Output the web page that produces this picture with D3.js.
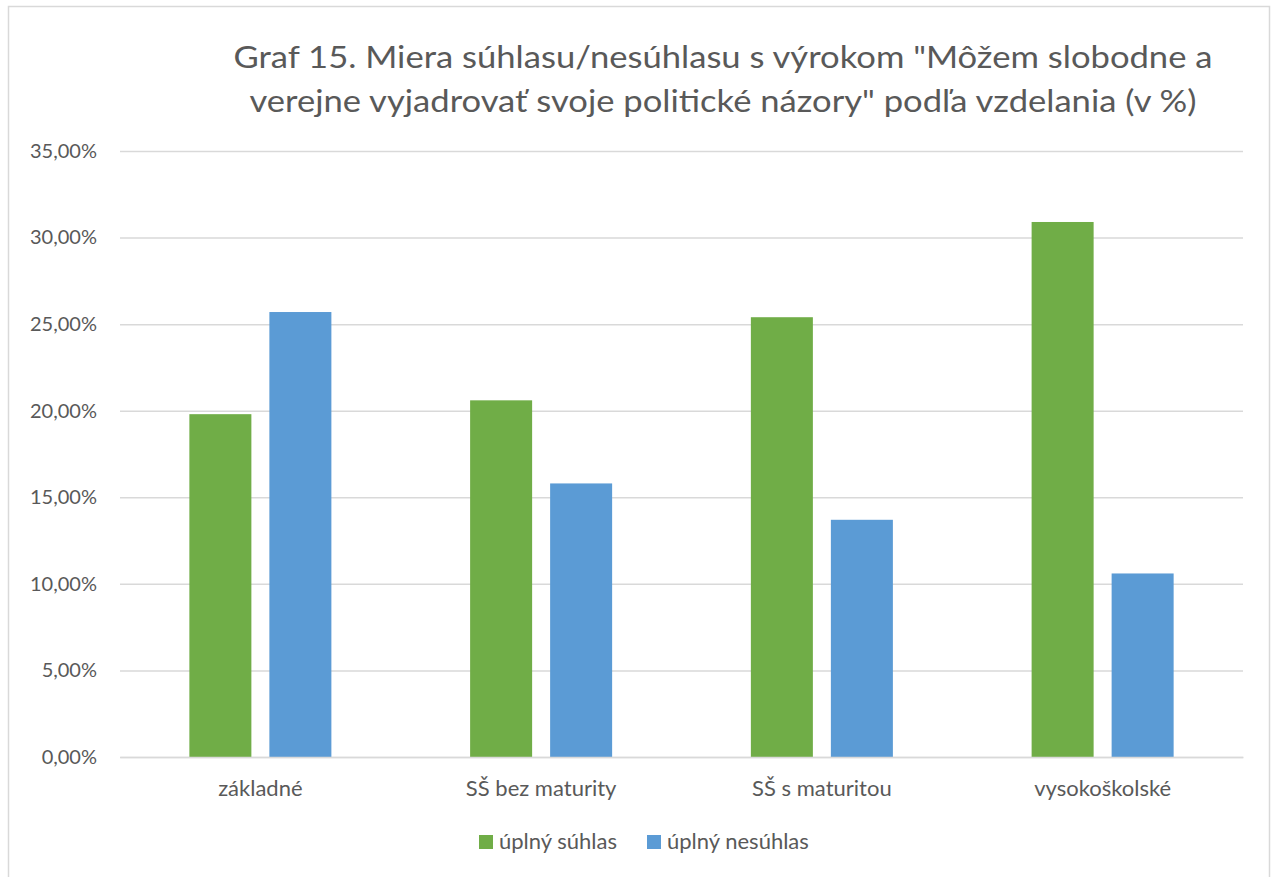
<!DOCTYPE html>
<html>
<head>
<meta charset="utf-8">
<script src="https://cdn.jsdelivr.net/npm/d3@7"></script>
<style>
  body { margin: 0; background: #fff; }
  svg text { font-family: Lato, "Open Sans", sans-serif; fill: #595959; }
</style>
</head>
<body>
<div id="app"></div>
<script>
var categories = ["základné", "SŠ bez maturity", "SŠ s maturitou", "vysokoškolské"];
var seriesNames = ["úplný súhlas", "úplný nesúhlas"];
var suhlas = [19.8, 20.6, 25.4, 30.9];
var nesuhlas = [25.7, 15.8, 13.7, 10.6];
var yTicks = [0, 5, 10, 15, 20, 25, 30, 35];
var titleLines = ["Graf 15. Miera súhlasu/nesúhlasu s výrokom \"Môžem slobodne a",
                  "verejne vyjadrovať svoje politické názory\" podľa vzdelania (v %)"];

var colors = ["#70ad47", "#5b9bd5"];
var svgWidth = 1271, svgHeight = 877;
var margin = { top: 151, right: 28, bottom: 120, left: 120 };
var planeWidth = svgWidth - margin.left - margin.right;
var planeHeight = svgHeight - margin.top - margin.bottom;

var svg = d3.select("#app").append("svg")
    .attr("width", svgWidth)
    .attr("height", svgHeight);

// chart frame
svg.append("rect")
    .attr("x", 8.5).attr("y", 6.5)
    .attr("width", 1261).attr("height", 880)
    .attr("fill", "none")
    .attr("stroke", "#d9d9d9")
    .attr("stroke-width", 1.5);

// title
svg.append("g").selectAll("text")
    .data(titleLines)
    .join("text")
    .attr("x", 723)
    .attr("y", function(d, i) { return 68 + i * 44; })
    .attr("text-anchor", "middle")
    .attr("font-size", 31)
    .attr("textLength", function(d, i) { return i ? 947 : 979; })
    .attr("lengthAdjust", "spacingAndGlyphs")
    .text(function(d) { return d; });

var g = svg.append("g").attr("transform", "translate(" + margin.left + "," + margin.top + ")");

var y = d3.scaleLinear().domain([0, 35]).range([planeHeight, 0]);
var x0 = d3.scaleBand().domain(categories).range([0, planeWidth]);
var x1 = d3.scaleBand().domain(seriesNames).range([0, x0.bandwidth()])
    .paddingInner(0.225).paddingOuter(0.867);

// gridlines + value axis
var yAxis = d3.axisLeft(y)
    .tickValues(yTicks)
    .tickSize(-planeWidth)
    .tickPadding(23)
    .tickFormat(function(d) { return d3.format(".2f")(d).replace(".", ",") + "%"; });

g.append("g").attr("class", "y-axis").call(yAxis)
    .call(function(s) { s.select(".domain").remove(); })
    .call(function(s) {
        s.selectAll("line").attr("stroke", "#d9d9d9").attr("stroke-width", 1.5);
        s.selectAll("text").attr("font-size", 20).attr("fill", "#595959");
    });

// bars
var table = categories.map(function(c, i) { return { cat: c, vals: [suhlas[i], nesuhlas[i]] }; });

g.append("g").selectAll("g")
    .data(table)
    .join("g")
    .attr("transform", function(d) { return "translate(" + x0(d.cat) + ",0)"; })
    .selectAll("rect")
    .data(function(d) { return d.vals.map(function(v, j) { return { s: seriesNames[j], v: v, j: j }; }); })
    .join("rect")
    .attr("x", function(d) { return x1(d.s); })
    .attr("width", x1.bandwidth())
    .attr("y", function(d) { return y(d.v); })
    .attr("height", function(d) { return planeHeight - y(d.v); })
    .attr("fill", function(d) { return colors[d.j]; });

// category axis
var xAxis = d3.axisBottom(x0).tickSize(0).tickPadding(23);
g.append("g").attr("transform", "translate(0," + planeHeight + ")").call(xAxis)
    .call(function(s) {
        s.select(".domain").attr("stroke", "#d9d9d9").attr("stroke-width", 1.5);
        s.selectAll("text").attr("font-size", 22).attr("fill", "#595959");
    });

// legend
var legendX = [479, 647];
var legend = svg.append("g").selectAll("g")
    .data(seriesNames)
    .join("g")
    .attr("transform", function(d, i) { return "translate(" + legendX[i] + ",835)"; });
legend.append("rect").attr("width", 14).attr("height", 14)
    .attr("fill", function(d, i) { return colors[i]; });
legend.append("text").attr("x", 20).attr("y", 14)
    .attr("font-size", 22)
    .text(function(d) { return d; });
</script>
</body>
</html>
